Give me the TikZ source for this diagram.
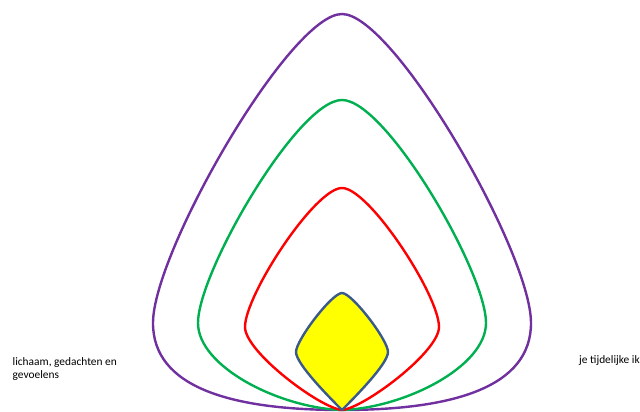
\documentclass[tikz,border=0pt]{standalone}
\usepackage{fontspec}
\setmainfont{Carlito}
\usepackage{tikz}
\definecolor{paars}{RGB}{112,48,160}
\definecolor{groen}{RGB}{0,176,80}
\definecolor{rood}{RGB}{255,0,0}
\definecolor{geel}{RGB}{255,255,0}
\definecolor{rand}{RGB}{59,90,140}
\tikzset{laag/.style={line width=2.4pt, line join=round},
	tekst/.style={anchor=base west, inner sep=0, align=left, font=\fontsize{11.4}{12.5}\selectfont}}

\begin{document}
\begin{tikzpicture}[x=1pt,y=1pt]
			\useasboundingbox (0,0) rectangle (640,412);
			\draw[laag, paars] (342,2) .. controls (230,2) and (153,25) .. (153,89) .. controls (153,160) and (290,398) .. (342,398) .. controls (394,398) and (531,160) .. (531,89) .. controls (531,25) and (454,2) .. (342,2);
			\draw[laag, groen] (342,2) .. controls (280,4) and (198,45) .. (198,89) .. controls (198,140) and (298,312) .. (342,312) .. controls (386,312) and (486,140) .. (486,89) .. controls (486,45) and (404,4) .. (342,2);
			\draw[laag, rood] (342,2) .. controls (320,4) and (245,60) .. (245,85) .. controls (245,117) and (315,224) .. (342,224) .. controls (369,224) and (439,117) .. (439,85) .. controls (439,60) and (364,4) .. (342,2);
			\draw[laag, rand, fill=geel] (342,2) .. controls (330,14) and (296,48) .. (296,60) .. controls (296,72) and (332,119) .. (342,119) .. controls (352,119) and (388,72) .. (388,60) .. controls (388,48) and (354,14) .. (342,2) -- cycle;
			\node[tekst] (lichaam) at (12.5,33.7) {lichaam, gedachten en\\gevoelens};
			\node[tekst] (tijdelijk) at (579,48.7) {je tijdelijke ik};
\end{tikzpicture}
\end{document}
